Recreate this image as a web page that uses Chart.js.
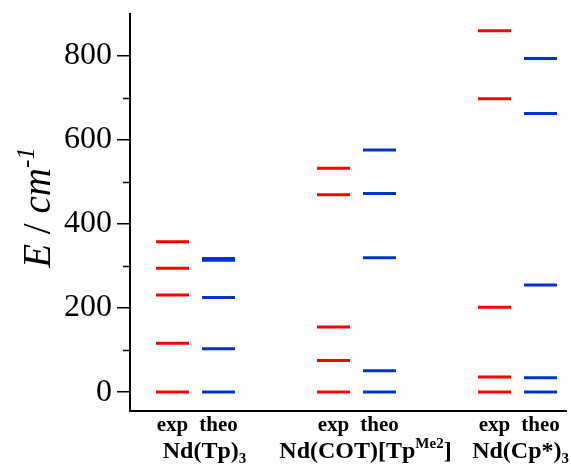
<!DOCTYPE html>
<html>
<head>
<meta charset="utf-8">
<script src="https://cdn.jsdelivr.net/npm/chart.js@4/dist/chart.umd.min.js"></script>
<style>
  html, body { margin: 0; padding: 0; background: #fff; }
  canvas { display: block; }
</style>
</head>
<body>
<canvas id="levels" width="571" height="468"></canvas>
<script>
// Crystal-field levels (cm^-1) of the Nd3+ ground multiplet, experiment vs. theory
const compounds = ['Nd(Tp)3', 'Nd(COT)[TpMe2]', 'Nd(Cp*)3'];
const columnLabels = ['exp', 'theo'];

const tpExp   = [0, 116, 231, 295, 358];
const tpTheo  = [0, 103, 225, 314, 318];
const cotExp  = [0, 75, 155, 470, 533];
const cotTheo = [0, 51, 320, 473, 576];
const cpExp   = [0, 36, 202, 698, 860];
const cpTheo  = [0, 34, 255, 663, 794];

const majorTicks = [0, 200, 400, 600, 800];
const minorTicks = [100, 300, 500, 700];

// compound name pieces: [text, kind] where kind is '', 'sub' or 'sup'
const compoundParts = [
  [['Nd(Tp)', ''], ['3', 'sub']],
  [['Nd(COT)[Tp', ''], ['Me2', 'sup'], [']', '']],
  [['Nd(Cp*)', ''], ['3', 'sub']]
];

const series = [
  [tpExp, tpTheo],
  [cotExp, cotTheo],
  [cpExp, cpTheo]
];

const GROUP_STEP = 3.5;
const colourFor = ['#ff0000', '#0033cc'];
const SERIF = '"Liberation Serif", "DejaVu Serif", serif';

// one scatter dataset per column; each level is drawn as a short horizontal stroke
const datasets = [];
const columnX = [];
series.forEach((pair, g) => {
  pair.forEach((values, k) => {
    const x = g * GROUP_STEP + k;
    columnX.push(x);
    datasets.push({
      label: compounds[g] + ' ' + columnLabels[k],
      data: values.map(v => ({ x: x, y: v })),
      pointStyle: 'line',
      pointRadius: 16.5,
      pointHoverRadius: 16.5,
      pointBorderWidth: 3,
      pointHoverBorderWidth: 3,
      borderColor: colourFor[k],
      backgroundColor: colourFor[k],
      showLine: false
    });
  });
});

// draws a run of text pieces with sub/superscripts; centred runs are kept inside maxRight
function drawRich(ctx, parts, x, y, size, align, opts) {
  const bold = opts.bold ? 'bold ' : '';
  const fontOf = (kind, italic) => {
    const s = kind ? Math.round(size * 0.64) : size;
    return (italic ? 'italic ' : '') + bold + s + 'px ' + SERIF;
  };
  let total = 0;
  parts.forEach(p => { ctx.font = fontOf(p[1], p[2]); total += ctx.measureText(p[0]).width; });
  let cx = align === 'center' ? x - total / 2 : x;
  if (opts.maxRight !== undefined && cx + total > opts.maxRight) cx = opts.maxRight - total;
  ctx.textAlign = 'left';
  ctx.textBaseline = 'alphabetic';
  parts.forEach(p => {
    ctx.font = fontOf(p[1], p[2]);
    let dy = 0;
    if (p[1] === 'sub') dy = size * 0.22;
    if (p[1] === 'sup') dy = -size * 0.42;
    ctx.fillText(p[0], cx, y + dy);
    cx += ctx.measureText(p[0]).width;
  });
}

const extras = {
  id: 'extras',
  afterDraw(chart) {
    const ctx = chart.ctx;
    const xs = chart.scales.x;
    const ys = chart.scales.y;
    ctx.save();
    ctx.fillStyle = '#000';
    ctx.strokeStyle = '#000';

    // minor ticks on the energy axis
    ctx.lineWidth = 1.5;
    minorTicks.forEach(v => {
      const py = Math.round(ys.getPixelForValue(v)) + 0.5;
      ctx.beginPath();
      ctx.moveTo(xs.left - 7, py);
      ctx.lineTo(xs.left, py);
      ctx.stroke();
    });

    // compound names under each exp/theo pair
    compoundParts.forEach((parts, g) => {
      const cx = xs.getPixelForValue(g * GROUP_STEP + 0.5) + 9;
      drawRich(ctx, parts, cx, 458, 24, 'center', { bold: true, maxRight: chart.width - 2 });
    });

    // energy axis title
    ctx.translate(50, (ys.top + ys.bottom) / 2 - 5);
    ctx.rotate(-Math.PI / 2);
    drawRich(ctx, [['E', '', true], [' / ', '', false], ['cm', '', true], ['-1', 'sup', true]],
      0, 0, 39, 'center', { bold: false });
    ctx.restore();
  }
};

new Chart(document.getElementById('levels'), {
  type: 'scatter',
  data: { datasets },
  options: {
    responsive: false,
    animation: false,
    events: [],
    layout: { autoPadding: false, padding: { top: 14, right: 5, left: 0, bottom: 0 } },
    plugins: { legend: { display: false }, tooltip: { enabled: false } },
    scales: {
      x: {
        type: 'linear',
        min: -0.924,
        max: 8.554,
        afterBuildTicks: s => { s.ticks = columnX.map(v => ({ value: v })); },
        afterFit: s => { s.height = 57; s.paddingLeft = 0; s.paddingRight = 0; },
        ticks: {
          autoSkip: false,
          maxRotation: 0,
          padding: 2,
          color: '#000',
          font: { family: SERIF, size: 21, weight: 'bold' },
          callback: (v, i) => columnLabels[i % 2]
        },
        grid: { display: false, drawTicks: false },
        border: { display: true, color: '#000', width: 2 }
      },
      y: {
        min: -45,
        max: 900,
        afterBuildTicks: s => { s.ticks = majorTicks.map(v => ({ value: v })); },
        afterFit: s => { s.width = 130; s.paddingTop = 0; s.paddingBottom = 0; },
        ticks: {
          padding: 5,
          color: '#000',
          font: { family: SERIF, size: 32 },
          callback: v => String(v)
        },
        grid: { drawOnChartArea: false, drawTicks: true, tickLength: 13, color: '#000', lineWidth: 1.5 },
        border: { display: true, color: '#000', width: 2 }
      }
    }
  },
  plugins: [extras]
});
</script>
</body>
</html>
